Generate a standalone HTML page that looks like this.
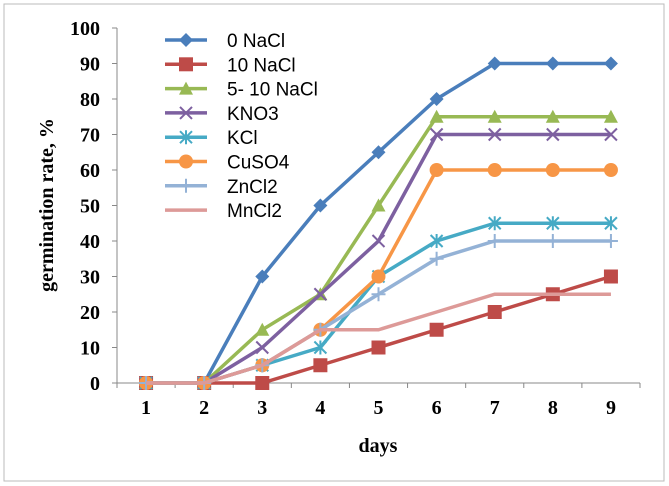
<!DOCTYPE html>
<html><head><meta charset="utf-8"><style>
body{margin:0;background:#fff}
svg{display:block}
text{font-family:"Liberation Serif",serif;font-weight:bold;font-size:20px;fill:#000}
.lg{font-family:"Liberation Sans",sans-serif;font-weight:normal;font-size:19px}
</style></head><body>
<svg id="c" width="669" height="486">
<rect x="4" y="4" width="660" height="477" fill="#fff" stroke="#bbb"/>
</svg>
<script>
const days=["1","2","3","4","5","6","7","8","9"];
const yTicks=[0,10,20,30,40,50,60,70,80,90,100];
const sNames=["0 NaCl","10 NaCl","5- 10 NaCl","KNO3","KCl","CuSO4","ZnCl2","MnCl2"];
const s0=[0,0,30,50,65,80,90,90,90];
const s1=[0,0,0,5,10,15,20,25,30];
const s2=[0,0,15,25,50,75,75,75,75];
const s3=[0,0,10,25,40,70,70,70,70];
const s4=[0,0,5,10,30,40,45,45,45];
const s5=[0,0,5,15,30,60,60,60,60];
const s6=[0,0,5,15,25,35,40,40,40];
const s7=[0,0,5,15,15,20,25,25,25];
const series=[s0,s1,s2,s3,s4,s5,s6,s7];
const colors=["#4a7ebb","#be4b48","#98b954","#7d60a0","#46aac5","#f79646","#94b2d6","#dd9a98"];
const markers=["diamond","square","triangle","x","star","circle","plus","none"];
const svg=document.getElementById('c');const NS="http://www.w3.org/2000/svg";
const L=117,R=640,T=28,B=383;
const xs=i=>L+(R-L)/days.length*(i+0.5);
const ys=v=>B-(B-T)*v/100;
function mk(t,a,p){const e=document.createElementNS(NS,t);for(const k in a)e.setAttribute(k,a[k]);(p||svg).appendChild(e);return e;}
const ax=mk('g',{});


mk('line',{x1:L,y1:T,x2:L,y2:B,stroke:'#888'},ax);
mk('line',{x1:L,y1:B,x2:R,y2:B,stroke:'#888'},ax);
yTicks.forEach(v=>{mk('line',{x1:L-5,y1:ys(v),x2:L,y2:ys(v),stroke:'#888'},ax);
const t=mk('text',{x:L-17,y:ys(v)+7,'text-anchor':'end'});t.textContent=v;

});
for(let i=0;i<=days.length;i++){const x=L+(R-L)/days.length*i;mk('line',{x1:x,y1:B,x2:x,y2:B+5,stroke:'#888'},ax);}
days.forEach((d,i)=>{const t=mk('text',{x:xs(i),y:B+31,'text-anchor':'middle'});t.textContent=d;

});
let t=mk('text',{x:378,y:452,'text-anchor':'middle'});t.textContent='days';


t=mk('text',{x:0,y:0,'text-anchor':'middle',transform:'translate(53,205) rotate(-90)'});t.textContent='germination rate, %';


function marker(g,type,x,y,c){
 if(type==='diamond')mk('path',{d:`M${x} ${y-7}L${x+7} ${y}L${x} ${y+7}L${x-7} ${y}Z`,fill:c},g);
 else if(type==='square')mk('rect',{x:x-7,y:y-7,width:14,height:14,fill:c},g);
 else if(type==='triangle')mk('path',{d:`M${x} ${y-7}L${x+7} ${y+6}L${x-7} ${y+6}Z`,fill:c},g);
 else if(type==='x')mk('path',{d:`M${x-6} ${y-6}L${x+6} ${y+6}M${x+6} ${y-6}L${x-6} ${y+6}`,stroke:c,'stroke-width':2},g);
 else if(type==='star')mk('path',{d:`M${x-6} ${y-6}L${x+6} ${y+6}M${x+6} ${y-6}L${x-6} ${y+6}M${x} ${y-7}L${x} ${y+7}`,stroke:c,'stroke-width':2},g);
 else if(type==='circle')mk('circle',{cx:x,cy:y,r:7,fill:c},g);
 else if(type==='plus')mk('path',{d:`M${x-7} ${y}L${x+7} ${y}M${x} ${y-7}L${x} ${y+7}`,stroke:c,'stroke-width':2},g);
}
series.forEach((s,k)=>{
 const g=mk('g',{});
 
 
 mk('polyline',{points:s.map((v,i)=>xs(i)+','+ys(v)).join(' '),fill:'none',stroke:colors[k],'stroke-width':3.5},g);
 s.forEach((v,i)=>marker(g,markers[k],xs(i),ys(v),colors[k]));
 const ly=40+k*24.3;
 const lg=mk('g',{});
 
 
 mk('line',{x1:165,y1:ly,x2:207,y2:ly,stroke:colors[k],'stroke-width':3.5},lg);
 marker(lg,markers[k],186,ly,colors[k]);
 const tt=mk('text',{x:227,y:ly+7,class:'lg'},lg);tt.textContent=sNames[k];
});
</script>
</body></html>
